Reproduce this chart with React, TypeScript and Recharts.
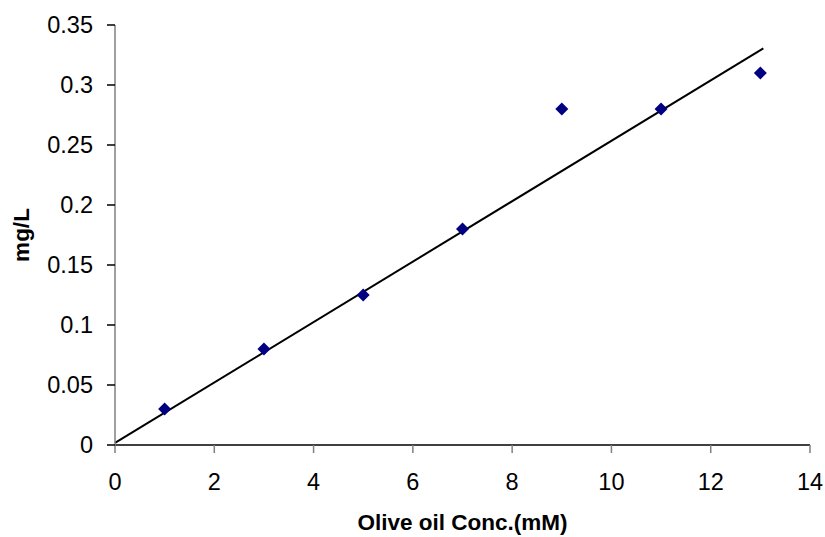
import { ScatterChart, Scatter, XAxis, YAxis, ReferenceLine } from "recharts";

const concX = [1, 3, 5, 7, 9, 11, 13];
const mgL = [0.03, 0.08, 0.125, 0.18, 0.28, 0.28, 0.31];
const xTicks = [0, 2, 4, 6, 8, 10, 12, 14];
const yTicks = [0, 0.05, 0.1, 0.15, 0.2, 0.25, 0.3, 0.35];
// trendline end points
const trendX = [0, 13.06];
const trendY = [0.0017, 0.3306];

const points = concX.map((x, i) => ({ x, y: mgL[i] }));
const font = "'Liberation Sans', Arial, sans-serif";

function Diamond(props: any) {
  const { cx, cy } = props;
  const r = 6.5;
  return (
    <polygon
      points={`${cx},${cy - r} ${cx + r},${cy} ${cx},${cy + r} ${cx - r},${cy}`}
      fill="#000080"
    />
  );
}

function XTitle(props: any) {
  const vb = props.viewBox || { x: 115, y: 445, width: 695, height: 92 };
  return (
    <text
      x={vb.x + vb.width / 2}
      y={vb.y + 85}
      textAnchor="middle"
      fontFamily={font}
      fontWeight="bold"
      fontSize={22.5}
      fill="#000"
    >
      Olive oil Conc.(mM)
    </text>
  );
}

function YTitle(props: any) {
  const vb = props.viewBox || { x: 0, y: 25, width: 115, height: 420 };
  const x = vb.x + 21;
  const y = vb.y + vb.height / 2;
  return (
    <text
      x={x}
      y={y}
      transform={`rotate(-90, ${x}, ${y})`}
      textAnchor="middle"
      dominantBaseline="central"
      fontFamily={font}
      fontWeight="bold"
      fontSize={22.5}
      fill="#000"
    >
      mg/L
    </text>
  );
}

export default function App() {
  return (
    <div style={{ position: "absolute", left: 0, top: 0, background: "#fff" }}>
      <ScatterChart width={825} height={537} margin={{ top: 25, right: 15, bottom: 0, left: 0 }}>
        <XAxis
          type="number"
          dataKey="x"
          domain={[0, 14]}
          ticks={xTicks}
          tickSize={8}
          tickMargin={20}
          height={92}
          axisLine={{ stroke: "#000", strokeWidth: 1.5 }}
          tickLine={{ stroke: "#808080", strokeWidth: 1.5 }}
          tick={{ fill: "#000", fontSize: 23.5, fontFamily: font }}
          label={<XTitle />}
        />
        <YAxis
          type="number"
          dataKey="y"
          domain={[0, 0.35]}
          ticks={yTicks}
          tickSize={8}
          tickMargin={14}
          width={115}
          axisLine={{ stroke: "#808080", strokeWidth: 1.5 }}
          tickLine={{ stroke: "#000", strokeWidth: 1.5 }}
          tick={{ fill: "#000", fontSize: 23.5, fontFamily: font }}
          tickFormatter={(v: number) => String(v)}
          label={<YTitle />}
        />
        <ReferenceLine
          segment={[
            { x: trendX[0], y: trendY[0] },
            { x: trendX[1], y: trendY[1] },
          ]}
          stroke="#000"
          strokeWidth={2}
        />
        <Scatter data={points} shape={<Diamond />} isAnimationActive={false} />
      </ScatterChart>
    </div>
  );
}
